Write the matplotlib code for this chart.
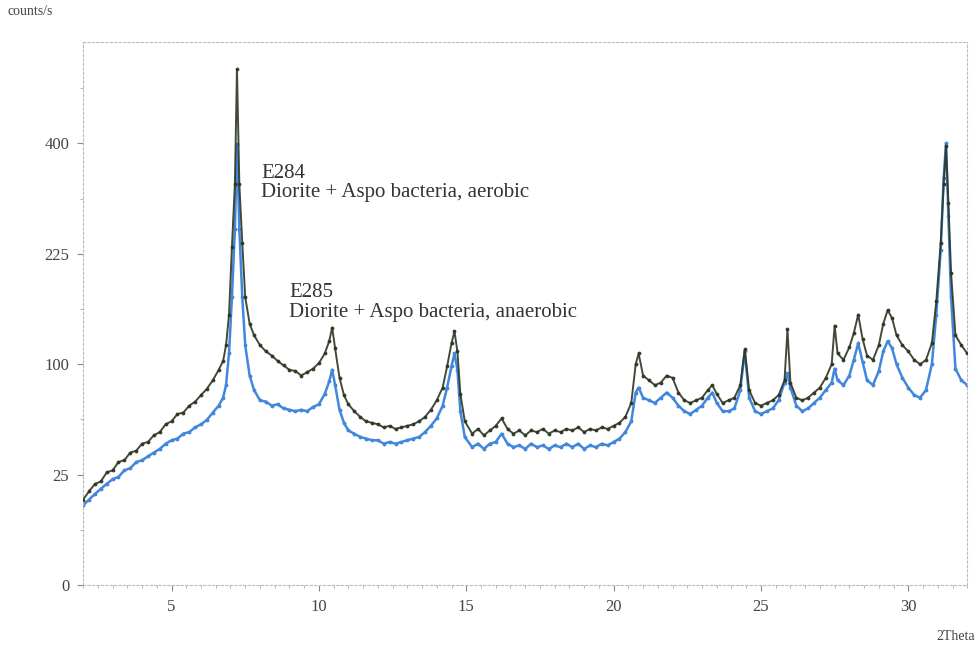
import numpy as np
import matplotlib
matplotlib.use("Agg")
import matplotlib.pyplot as plt

# 2Theta positions (shared by both patterns)
two_theta = [
    2.0, 2.2, 2.4, 2.6, 2.8, 3.0, 3.2, 3.4, 3.6, 3.8, 4.0, 4.2, 4.4, 4.6, 4.8,
    5.0, 5.2, 5.4, 5.6, 5.8, 6.0, 6.2, 6.4, 6.6,
    6.75, 6.85, 6.95, 7.05, 7.15, 7.22, 7.3, 7.4, 7.5, 7.65, 7.8, 8.0,
    8.2, 8.4, 8.6, 8.8, 9.0, 9.2, 9.4, 9.6, 9.8, 10.0, 10.2,
    10.35, 10.45, 10.55, 10.7, 10.85,
    11.0, 11.2, 11.4, 11.6, 11.8, 12.0, 12.2, 12.4, 12.6, 12.8, 13.0, 13.2,
    13.4, 13.6, 13.8, 14.0,
    14.2, 14.35, 14.5, 14.6, 14.7, 14.8, 14.95,
    15.2, 15.4, 15.6, 15.8, 16.0, 16.2, 16.4, 16.6, 16.8, 17.0, 17.2, 17.4,
    17.6, 17.8, 18.0, 18.2, 18.4, 18.6, 18.8, 19.0, 19.2, 19.4, 19.6, 19.8,
    20.0, 20.2, 20.4,
    20.6, 20.75, 20.85, 21.0, 21.2, 21.4, 21.6, 21.8, 22.0, 22.2, 22.4, 22.6,
    22.8, 23.0, 23.2, 23.35, 23.5, 23.7, 23.9, 24.1, 24.3, 24.45, 24.6, 24.8,
    25.0, 25.2, 25.4, 25.6, 25.8, 25.9, 26.0, 26.2, 26.4, 26.6, 26.8, 27.0,
    27.2, 27.4, 27.5, 27.6, 27.8, 28.0, 28.15, 28.3, 28.45, 28.6, 28.8, 29.0,
    29.15, 29.3, 29.45, 29.6, 29.8, 30.0, 30.2, 30.4, 30.6, 30.8, 30.95, 31.1,
    31.2, 31.28, 31.36, 31.45, 31.6, 31.8, 32.0,
]

# E284 (upper, dark trace), counts/s
e284 = [
    15, 18, 21, 22, 26, 27, 31, 32, 36, 37, 41, 42, 46, 48, 53,
    55, 60, 61, 66, 69, 74, 79, 86, 95,
    103, 118, 150, 235, 330, 546, 330, 240, 170, 140, 128, 118,
    112, 108, 103, 99, 95, 94, 90, 93, 96, 101, 110,
    122, 136, 115, 88, 74,
    67, 62, 58, 55, 54, 53, 51, 52, 50, 51, 52, 53,
    55, 58, 63, 70,
    80, 98, 120, 132, 112, 75, 55,
    47, 50, 46, 49, 52, 57, 50, 47, 49, 46, 49, 48,
    50, 47, 49, 48, 50, 49, 51, 48, 50, 49, 51, 50,
    52, 54, 58,
    68, 100, 110, 90, 86, 82, 84, 90, 88, 76, 70, 68,
    70, 72, 78, 82, 75, 68, 70, 72, 82, 114, 78, 68,
    66, 68, 70, 74, 86, 134, 84, 72, 70, 72, 76, 80,
    88, 100, 138, 110, 104, 116, 130, 150, 124, 108, 104, 118,
    140, 155, 146, 128, 118, 112, 104, 100, 104, 120, 165, 240,
    330, 395, 300, 200, 128, 118, 110,
]

# E285 (lower, blue trace), counts/s
e285 = [
    13, 15, 17, 19, 21, 23, 24, 27, 28, 31, 32, 34, 36, 38, 41,
    43, 44, 47, 48, 51, 53, 56, 61, 66,
    72, 82, 110, 170, 260, 398, 260, 170, 118, 90, 78, 70,
    69, 66, 67, 64, 63, 62, 63, 62, 65, 67, 75,
    85, 95, 82, 63, 54,
    49, 47, 45, 44, 43, 43, 41, 42, 41, 42, 43, 44,
    45, 48, 52, 57,
    66, 80, 98, 110, 95, 62, 45,
    39, 41, 38, 41, 42, 47, 41, 39, 40, 38, 41, 39,
    40, 38, 40, 39, 41, 39, 41, 38, 40, 39, 41, 40,
    42, 44, 48,
    55, 76, 80, 72, 70, 68, 72, 76, 72, 66, 62, 60,
    63, 66, 72, 76, 68, 62, 62, 64, 78, 112, 72, 62,
    60, 62, 64, 70, 84, 92, 80, 66, 62, 64, 68, 72,
    78, 84, 96, 86, 82, 90, 104, 120, 102, 86, 82, 94,
    112, 122, 115, 100, 88, 80, 74, 72, 78, 100, 150, 230,
    340, 400, 280, 170, 96, 86, 82,
]

y_ticks = [0, 25, 100, 225, 400]
x_ticks = [5, 10, 15, 20, 25, 30]

serif = ["Liberation Serif", "DejaVu Serif"]

fig = plt.figure(figsize=(9.78, 6.53), dpi=100)
ax = fig.add_axes([0.085, 0.104, 0.904, 0.832])

ax.set_yscale("function", functions=(lambda v: np.sqrt(np.clip(v, 0, None)), np.square))

ax.plot(two_theta, e285, color="#4287dc", lw=1.8, marker=".", ms=3.5, zorder=2)
ax.plot(two_theta, e284, color="#2d3722", lw=1.4, marker=".", ms=3.5, alpha=0.9, zorder=3)

ax.set_xlim(2, 32)
ax.set_ylim(0, 24.6 ** 2)
ax.set_xticks(x_ticks)
ax.set_xticks(np.arange(2, 32.01, 0.5), minor=True)
ax.set_yticks(y_ticks)
ax.set_yticks([2.5 ** 2, 7.5 ** 2, 12.5 ** 2, 17.5 ** 2, 22.5 ** 2], minor=True)

for lab in ax.get_xticklabels() + ax.get_yticklabels():
    lab.set_family(serif)
    lab.set_fontsize(12)
    lab.set_color("#444444")
ax.tick_params(which="major", length=4, color="#888888", pad=6)
ax.tick_params(which="minor", length=2, color="#aaaaaa")
for side in ax.spines:
    ax.spines[side].set_color("#bbbbbb")
    ax.spines[side].set_linewidth(0.8)
    ax.spines[side].set_linestyle((0, (2, 2)))

ax.text(8.05, 18.2 ** 2, "E284\nDiorite + Aspo bacteria, aerobic",
        family=serif, fontsize=15, color="#333333", va="center", ha="left",
        linespacing=1.05)
ax.text(9.0, 12.8 ** 2, "E285\nDiorite + Aspo bacteria, anaerobic",
        family=serif, fontsize=15, color="#333333", va="center", ha="left",
        linespacing=1.05)

fig.text(0.008, 0.982, "counts/s", family=serif, fontsize=10, color="#444444",
         va="center", ha="left")
fig.text(0.997, 0.026, "2Theta", family=serif, fontsize=10, color="#444444",
         va="center", ha="right")

fig.savefig("out.png", dpi=100)
